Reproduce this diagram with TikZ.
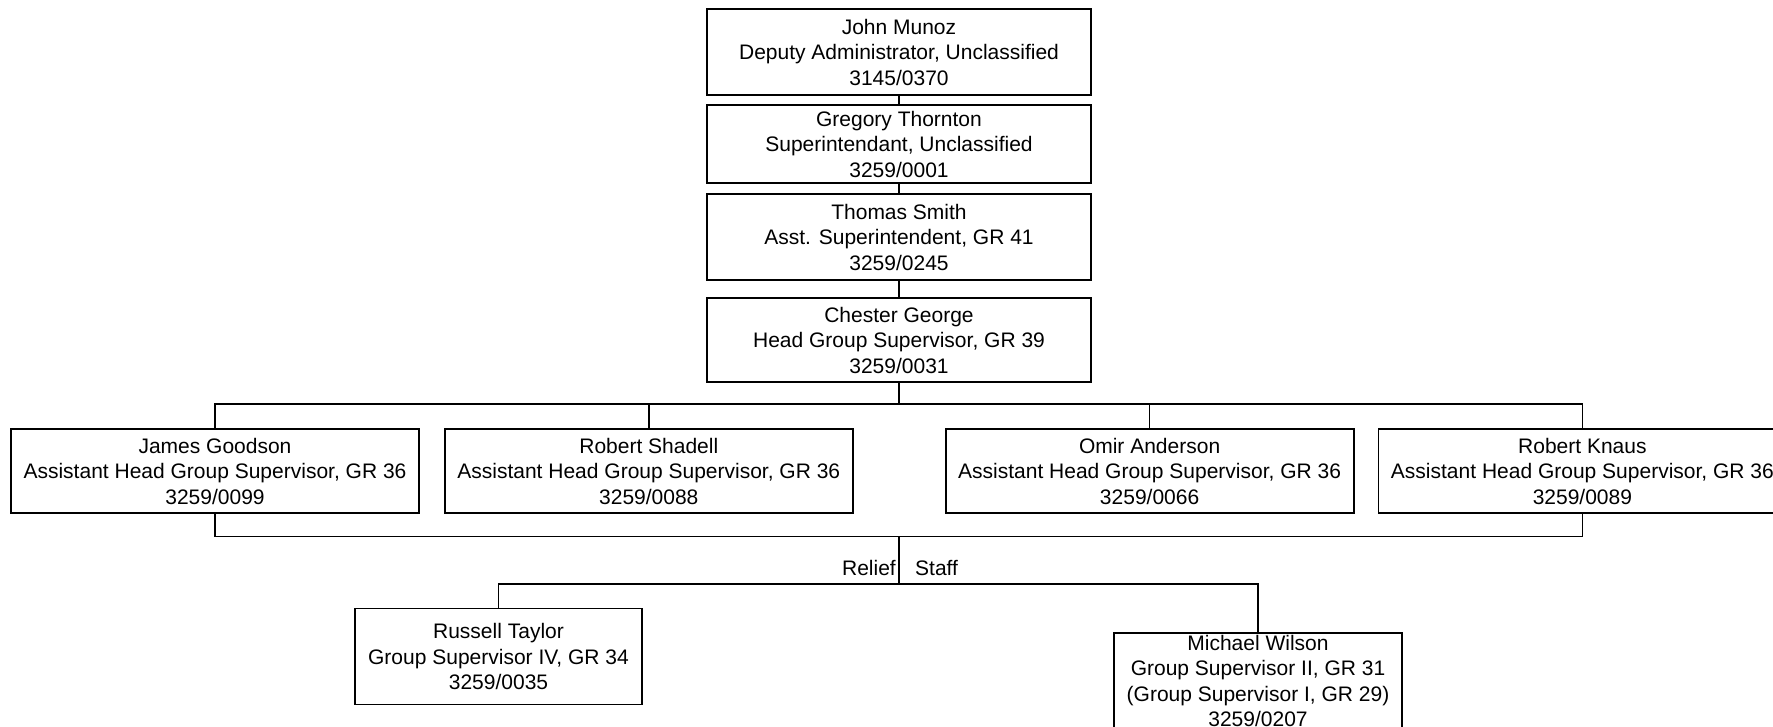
\documentclass[tikz,border=0pt]{standalone}
\usepackage{fontspec}
\setmainfont{Liberation Sans}
\usepackage{xcolor}
\definecolor{lineDark}{HTML}{000000}
\usepackage{tikz}
\usetikzlibrary{positioning,calc}
\newcommand{\chartFont}{\fontsize{21}{25.5}\selectfont}
\tikzset{%
  staffBox/.style={%
    rectangle,
    draw=lineDark,
    line width=1.8pt,
    fill=white,
    minimum width=408pt,
    minimum height=84pt,
    inner sep=2pt,
    align=center,
    font=\chartFont
  },
  chiefBox/.style={%
    staffBox,
    minimum width=384pt
  },
  reliefBox/.style={%
    staffBox,
    minimum width=288pt,
    minimum height=96pt
  },
  orgLine/.style={%
    line width=1.5pt,
    color=lineDark
  },
  busLabel/.style={%
    inner sep=0pt,
    font=\chartFont
  }
}

\begin{document}
\begin{tikzpicture}[x=1pt,y=-1pt]
  \useasboundingbox (0,0) rectangle (1773,727);
  \clip (0,0) rectangle (1773,727);
  \fill[white] (0,0) rectangle (1773,727);

  % chain of command
  \node[chiefBox, minimum height=86pt] (munoz) at (899,52) {John Munoz\\Deputy Administrator, Unclassified\\3145/0370};
  \node[chiefBox, minimum height=78pt, below=8.5pt of munoz] (thornton) {Gregory Thornton\\Superintendant, Unclassified\\3259/0001};
  \node[chiefBox, minimum height=86pt, below=9.2pt of thornton] (smith) {Thomas Smith\\Asst. Superintendent, GR 41\\3259/0245};
  \node[chiefBox, below=15.9pt of smith] (george) {Chester George\\Head Group Supervisor, GR 39\\3259/0031};

  % assistant heads
  \node[staffBox] (goodson) at (215,471) {James Goodson\\Assistant Head Group Supervisor, GR 36\\3259/0099};
  \node[staffBox, right=24pt of goodson] (shadell) {Robert Shadell\\Assistant Head Group Supervisor, GR 36\\3259/0088};
  \node[staffBox, right=91pt of shadell] (anderson) {Omir Anderson\\Assistant Head Group Supervisor, GR 36\\3259/0066};
  \node[staffBox, right=23pt of anderson] (knaus) {Robert Knaus\\Assistant Head Group Supervisor, GR 36\\3259/0089};

  % relief staff
  \node[reliefBox, minimum width=287pt] (taylor) at (498.5,656.5) {Russell Taylor\\Group Supervisor IV, GR 34\\3259/0035};
  \node[reliefBox] (wilson) at (1258,681) {};
  \node[busLabel, align=center] (wilsonText) at (wilson.center) {Michael Wilson\\Group Supervisor II, GR 31\\(Group Supervisor I, GR 29)\\3259/0207};

  \coordinate (topBus) at (899,404);
  \coordinate (lowBus) at (899,536.5);
  \coordinate (reliefBus) at (899,584);

  \draw[orgLine] (munoz) -- (thornton);
  \draw[orgLine] (thornton) -- (smith);
  \draw[orgLine] (smith) -- (george);
  \draw[orgLine] (george) -- (topBus);
  \foreach \who in {goodson,shadell,anderson,knaus}
    \draw[orgLine] (topBus) -| (\who.north);
  \draw[orgLine] (goodson.south) |- (lowBus);
  \draw[orgLine] (knaus.south) |- (lowBus);
  \draw[orgLine] (lowBus) -- (reliefBus);
  \draw[orgLine] (reliefBus) -| (taylor.north);
  \draw[orgLine] (reliefBus) -| (wilson.north);

  \node[busLabel, anchor=base east] (reliefLabel) at (896,575.7) {Relief};
  \node[busLabel, anchor=base west] (staffLabel) at (915,575.7) {Staff};
\end{tikzpicture}
\end{document}
